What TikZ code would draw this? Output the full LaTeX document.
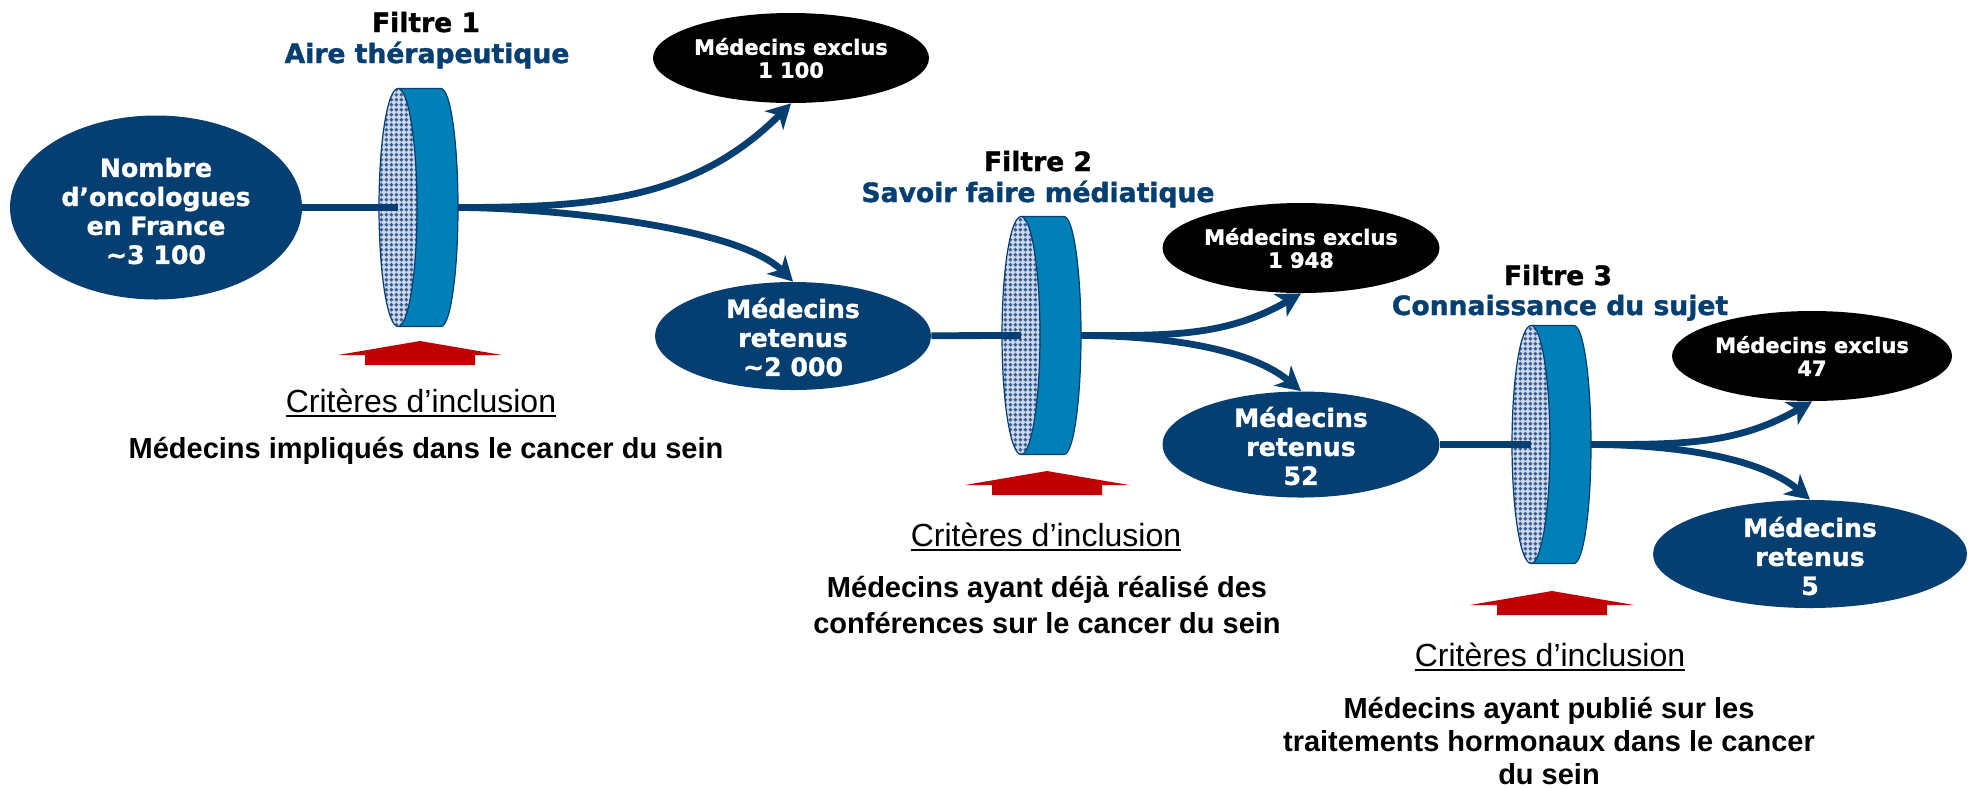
\documentclass[tikz,border=0pt]{standalone}
\usepackage{fontspec}
\setmainfont{Liberation Sans}
\newfontfamily\dejavu{DejaVu Sans}[BoldFeatures={FakeBold=1.3}]
\usetikzlibrary{shapes.geometric,arrows.meta,patterns}
\definecolor{navy}{RGB}{5,62,112}
\definecolor{bandblue}{RGB}{0,128,182}
\definecolor{meshbg}{RGB}{205,216,234}
\definecolor{meshblue}{RGB}{55,95,150}
\definecolor{critred}{RGB}{192,0,0}
\pgfdeclarepatternformonly{filtermesh}{\pgfqpoint{0pt}{0pt}}{\pgfqpoint{2.6pt}{2.6pt}}{\pgfqpoint{2.6pt}{2.6pt}}{%
  \pgfpathmoveto{\pgfqpoint{1.3pt}{0.15pt}}\pgfpathlineto{\pgfqpoint{2.45pt}{1.3pt}}%
  \pgfpathlineto{\pgfqpoint{1.3pt}{2.45pt}}\pgfpathlineto{\pgfqpoint{0.15pt}{1.3pt}}\pgfpathclose
  \pgfusepath{fill}}
\newsavebox\critbox
\newcommand\critline[1]{\sbox\critbox{#1}\rlap{\rule[-2.6pt]{\wd\critbox}{0.9pt}}\usebox\critbox}
\newcommand\drawfilter[3]{%
  \coordinate (#1in) at (#2,-#3);
  \coordinate (#1back) at (#2+43,-#3);
  \coordinate (#1out) at (#2+60,-#3);
  \fill[bandfill] (#2,-#3+119) -- (#2+43,-#3+119) arc[start angle=90,end angle=-90,x radius=8.5pt,y radius=59.5pt] -- (#2,-#3-119) -- cycle;
  \draw[discline] (#2,-#3+119) -- (#2+43,-#3+119) arc[start angle=90,end angle=-90,x radius=8.5pt,y radius=59.5pt] -- (#2,-#3-119);
  \fill[meshbg] (#1in) ellipse[x radius=9.5pt,y radius=59.5pt];
  \fill[pattern=filtermesh,pattern color=meshblue] (#1in) ellipse[x radius=9.5pt,y radius=59.5pt];
  \draw[discline] (#1in) ellipse[x radius=9.5pt,y radius=59.5pt];
}
\newcommand\critarrow[2]{%
  \fill[redarrow] (#1,-#2) -- ++(82,-14) -- ++(-27,0) -- ++(0,-10) -- ++(-110,0) -- ++(0,10) -- ++(-27,0) -- cycle;
}
\begin{document}
\begin{tikzpicture}[x=0.5pt,y=0.5pt,
  ell/.style={ellipse,inner sep=0pt},
  navyell/.style={ell,fill=navy},
  blackell/.style={ell,fill=black},
  bigtxt/.style={font=\dejavu\fontsize{12.6pt}{14.5pt}\selectfont\bfseries,text=white,align=center,inner sep=0pt},
  smalltxt/.style={font=\dejavu\fontsize{10.5pt}{11.5pt}\selectfont\bfseries,text=white,align=center,inner sep=0pt},
  filtname/.style={font=\dejavu\fontsize{13.3pt}{15pt}\selectfont\bfseries,anchor=base,inner sep=0pt},
  filtsub/.style={filtname,text=navy},
  crit/.style={font=\fontsize{16pt}{19pt}\selectfont,anchor=base,inner sep=0pt},
  desc/.style={font=\fontsize{14.5pt}{18pt}\selectfont\bfseries,anchor=base,inner sep=0pt},
  link/.style={draw=navy,line width=3.4pt},
  flow/.style={link,-{Stealth[length=12pt,width=13pt,inset=3.5pt]}},
  bandfill/.style={fill=bandblue},
  discline/.style={draw=navy,line width=0.6pt},
  redarrow/.style={fill=critred}]
\fill[white] (0,0) rectangle (1968,-789);
\useasboundingbox (0,0) rectangle (1968,-789);

% filters
\drawfilter{f1}{398}{207.5}
\drawfilter{f2}{1021}{335.5}
\drawfilter{f3}{1531}{444.5}

% ellipses
\node[navyell,minimum width=146pt,minimum height=92pt] (src) at (156,-207.5) {};
\node[bigtxt] (srct) at (156,-211) {Nombre\\d’oncologues\\en France\\\textasciitilde 3 100};

\node[blackell,minimum width=138pt,minimum height=45pt] (ex1) at (791,-58) {};
\node[smalltxt] (ex1t) at (791,-58) {Médecins exclus\\1 100};
\node[navyell,minimum width=138pt,minimum height=54pt] (re1) at (793,-336) {};
\node[bigtxt] (re1t) at (793,-337) {Médecins\\retenus\\\textasciitilde 2 000};

\node[blackell,minimum width=138.5pt,minimum height=45pt] (ex2) at (1301,-248) {};
\node[smalltxt] (ex2t) at (1301,-248) {Médecins exclus\\1 948};
\node[navyell,minimum width=138.5pt,minimum height=53pt] (re2) at (1301,-444.5) {};
\node[bigtxt] (re2t) at (1301,-446) {Médecins\\retenus\\52};

\node[blackell,minimum width=140pt,minimum height=45pt] (ex3) at (1812,-356) {};
\node[smalltxt] (ex3t) at (1812,-356) {Médecins exclus\\47};
\node[navyell,minimum width=157pt,minimum height=54pt] (re3) at (1810,-554) {};
\node[bigtxt] (re3t) at (1810,-556) {Médecins\\retenus\\5};

% connectors
\draw[link] (src) -- (f1in);
\draw[link] (re1) -- (f2in);
\draw[link] (re2) -- (f3in);

\draw[flow] (f1out) to[out=0,in=225] (ex1.south);
\draw[flow] (f1out) to[out=0,in=135,looseness=0.6] (re1.north);
\draw[flow] (f2out) to[out=0,in=210] (ex2.south);
\draw[flow] (f2out) to[out=0,in=140,looseness=0.8] (re2.north);
\draw[flow] (f3out) to[out=0,in=210] (ex3.south);
\draw[flow] (f3out) to[out=0,in=140,looseness=0.8] (re3.north);

% red arrows
\critarrow{420}{341}
\critarrow{1047}{471}
\critarrow{1552}{591}

% titles
\node[filtname] (t1) at (426,-32) {Filtre 1};
\node[filtsub] (s1) at (427,-63) {Aire thérapeutique};
\node[filtname] (t2) at (1038,-171) {Filtre 2};
\node[filtsub] (s2) at (1038,-202) {Savoir faire médiatique};
\node[filtname] (t3) at (1558,-285) {Filtre 3};
\node[filtsub] (s3) at (1560,-315) {Connaissance du sujet};

% criteria
\node[crit] (c1) at (421,-412) {\critline{Critères d’inclusion}};
\node[desc] (d1) at (426,-458) {Médecins impliqués dans le cancer du sein};
\node[crit] (c2) at (1046,-546) {\critline{Critères d’inclusion}};
\node[desc] (d2) at (1047,-597) {\begin{tabular}[t]{@{}c@{}}Médecins ayant déjà réalisé des\\conférences sur le cancer du sein\end{tabular}};
\node[crit] (c3) at (1550,-666) {\critline{Critères d’inclusion}};
\node[desc,font=\fontsize{14.5pt}{16.5pt}\selectfont\bfseries] (d3) at (1549,-718) {\begin{tabular}[t]{@{}c@{}}Médecins ayant publié sur les\\traitements hormonaux dans le cancer\\du sein\end{tabular}};
\end{tikzpicture}
\end{document}
